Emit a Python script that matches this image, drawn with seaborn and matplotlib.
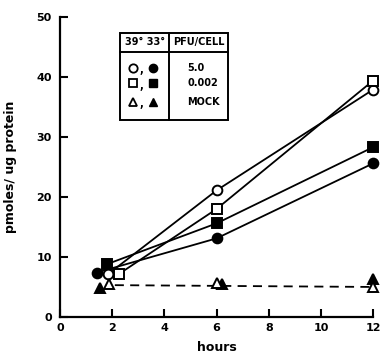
import matplotlib
matplotlib.use("Agg")
import matplotlib.pyplot as plt
import seaborn as sns
import pandas as pd
from matplotlib.patches import Rectangle

sns.set_style("ticks")
plt.rcParams['font.family'] = ['DejaVu Sans']
plt.rcParams['font.weight'] = 'bold'
plt.rcParams['text.color'] = 'black'
plt.rcParams['axes.labelcolor'] = 'black'
plt.rcParams['xtick.color'] = 'black'
plt.rcParams['ytick.color'] = 'black'
plt.rcParams['axes.edgecolor'] = 'black'

# data (hours, pmoles/ug protein)
open_circle_x = [1.83, 6.0, 12.0]
open_circle_y = [7.1, 21.1, 37.9]
open_square_x = [2.27, 6.0, 12.0]
open_square_y = [7.2, 18.0, 39.4]
filled_square_x = [1.8, 6.0, 12.0]
filled_square_y = [8.8, 15.6, 28.3]
filled_circle_x = [1.41, 6.0, 12.0]
filled_circle_y = [7.4, 13.1, 25.6]
open_tri_x = [1.86, 6.0, 12.0]
open_tri_y = [5.5, 5.6, 5.0]
filled_tri_x = [1.54, 6.2, 12.0]
filled_tri_y = [4.8, 5.5, 6.3]
mock_line_x = [2.1, 12.0]
mock_line_y = [5.3, 5.0]

xticks = [0, 2, 4, 6, 8, 10, 12]
yticks = [0, 10, 20, 30, 40, 50]

fig = plt.figure(figsize=(3.8, 3.61), dpi=100)
ax = fig.add_axes([0.158, 0.122, 0.824, 0.831])

ms = 7
lw = 1.3

def series(x, y, marker, filled, line=True, ls='-'):
    df = pd.DataFrame({'x': x, 'y': y})
    sns.lineplot(data=df, x='x', y='y', ax=ax, sort=False, color='black',
                 linewidth=lw if line else 0, linestyle=ls,
                 marker=marker, markersize=ms,
                 markerfacecolor='black' if filled else 'white',
                 markeredgecolor='black', markeredgewidth=1.4,
                 clip_on=False, zorder=3)

# dashed mock line
dfm = pd.DataFrame({'x': mock_line_x, 'y': mock_line_y})
sns.lineplot(data=dfm, x='x', y='y', ax=ax, color='black', linewidth=lw,
             linestyle=(0, (5, 3.5)), zorder=2)

series(filled_circle_x, filled_circle_y, 'o', True)
series(filled_square_x, filled_square_y, 's', True)
series(open_circle_x, open_circle_y, 'o', False)
series(open_square_x, open_square_y, 's', False)
series(filled_tri_x, filled_tri_y, '^', True, line=False)
series(open_tri_x, open_tri_y, '^', False, line=False)

ax.set_xlim(0, 12)
ax.set_ylim(0, 50)
ax.set_xticks(xticks)
ax.set_yticks(yticks)
ax.set_xticklabels([str(t) for t in xticks], fontsize=8, fontweight='bold')
ax.set_yticklabels([str(t) for t in yticks], fontsize=8, fontweight='bold')
ax.tick_params(direction='in', length=6, width=1.5, pad=4)
ax.tick_params(axis='y', pad=6)
for s in ['top', 'right']:
    ax.spines[s].set_visible(False)
for s in ['left', 'bottom']:
    ax.spines[s].set_linewidth(1.6)
ax.set_xlabel('hours', fontsize=9, fontweight='bold', labelpad=6)
ax.set_ylabel('pmoles/ ug protein', fontsize=9, fontweight='bold', labelpad=14)

# legend table (axes coords)
def fx(px):
    return (px - 60) / 313.0
def fy(py):
    return (317 - py) / 300.0

x0, x1, xm = fx(120), fx(228), fx(169)
y0, y1, ym = fy(120), fy(33), fy(52)
tr = ax.transAxes
ax.add_patch(Rectangle((x0, y0), x1 - x0, y1 - y0, transform=tr,
                       fill=True, facecolor='white', edgecolor='black', lw=1.4, zorder=5))
ax.plot([x0, x1], [ym, ym], transform=tr, color='black', lw=1.4, zorder=6)
ax.plot([xm, xm], [y0, y1], transform=tr, color='black', lw=1.4, zorder=6)
ax.text((x0 + xm) / 2, (ym + y1) / 2, '39° 33°', transform=tr, ha='center', va='center',
        fontsize=7, fontweight='bold', zorder=7)
ax.text((xm + x1) / 2, (ym + y1) / 2, 'PFU/CELL', transform=tr, ha='center', va='center',
        fontsize=7, fontweight='bold', zorder=7)
rows = [(67.7, 'o', '5.0'), (83.3, 's', '0.002'), (101.7, '^', 'MOCK')]
for py, mk, lab in rows:
    yy = fy(py)
    ax.plot([fx(133)], [yy], transform=tr, marker=mk, markersize=6, markerfacecolor='white',
            markeredgecolor='black', markeredgewidth=1.3, zorder=7, clip_on=False)
    ax.text(fx(141), yy - 0.008, ',', transform=tr, ha='center', va='center', fontsize=7,
            fontweight='bold', zorder=7)
    ax.plot([fx(153)], [yy], transform=tr, marker=mk, markersize=6, markerfacecolor='black',
            markeredgecolor='black', zorder=7, clip_on=False)
    ax.text(fx(187), yy, lab, transform=tr, ha='left', va='center', fontsize=7,
            fontweight='bold', zorder=7)

fig.savefig('out.png', dpi=100)
